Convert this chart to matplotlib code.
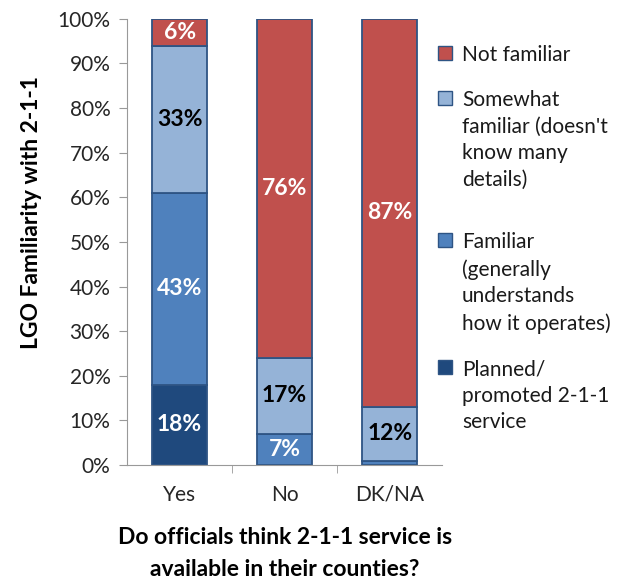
import numpy as np
import matplotlib
matplotlib.use("Agg")
import matplotlib.pyplot as plt
from matplotlib.patches import Rectangle

plt.rcParams['font.family'] = ['Lato', 'DejaVu Sans']

# answers to "is 2-1-1 available in your county?"
groups = ['Yes', 'No', 'DK/NA']

# familiarity shares (%), stacked bottom to top
planned = [18, 0, 0]
familiar = [43, 7, 1]
somewhat = [33, 17, 12]
not_familiar = [6, 76, 87]

series = [
    ('Planned/\npromoted 2-1-1\nservice', planned, '#1F497D', 'white'),
    ('Familiar\n(generally\nunderstands\nhow it operates)', familiar, '#4F81BD', 'white'),
    ('Somewhat\nfamiliar (doesn\'t\nknow many\ndetails)', somewhat, '#95B3D7', 'black'),
    ('Not familiar', not_familiar, '#C0504D', 'white'),
]

W, H = 629, 585
fig = plt.figure(figsize=(W / 100, H / 100), dpi=100)
ax = fig.add_axes([0.202, 0.205, 0.501, 0.763])

x = np.arange(len(groups))
bottom = np.zeros(len(groups))
for label, vals, color, txtcolor in series:
    vals = np.array(vals, dtype=float)
    ax.bar(x, vals, bottom=bottom, width=0.52, color=color,
           edgecolor='#2E5484', linewidth=1.3, label=label)
    for xi, v, b0 in zip(x, vals, bottom):
        if v >= 5:
            ax.text(xi, b0 + v / 2, f'{int(v)}%', ha='center', va='center',
                    color=txtcolor, fontsize=16.5, fontweight='bold')
    bottom += vals

ax.set_xlim(-0.5, 2.5)
ax.set_ylim(0, 100)
ax.set_yticks(np.arange(0, 101, 10))
ax.set_yticklabels([f'{t}%' for t in range(0, 101, 10)], fontsize=15, color='#262626')
ax.set_xticks(x)
ax.set_xticklabels(groups, fontsize=15, color='#262626')
ax.set_xticks([0.5, 1.5], minor=True)
ax.tick_params(axis='x', which='major', length=0, pad=14)
ax.tick_params(axis='x', which='minor', length=6, color='#999999')
ax.tick_params(axis='y', length=6, color='#999999', pad=6)
for s in ['top', 'right']:
    ax.spines[s].set_visible(False)
ax.spines['left'].set_color('#999999')
ax.spines['bottom'].set_color('#999999')

ax.set_ylabel('LGO Familiarity with 2-1-1', fontsize=16.5, fontweight='bold', labelpad=6)
ax.yaxis.set_label_coords(-0.27, 0.565)
ax.set_xlabel('Do officials think 2-1-1 service is\navailable in their counties?',
              fontsize=16.5, fontweight='bold', labelpad=16, linespacing=1.65)

# legend: square key next to the first line of each (wrapped) label
key_rows = [53, 98, 240, 367]   # pixel rows, top to bottom
for (label, _, color, _), row in zip(series[::-1], key_rows):
    fig.patches.append(Rectangle((438 / W, 1 - (row + 7) / H), 14 / W, 14 / H,
                                 transform=fig.transFigure, facecolor=color,
                                 edgecolor='#2E5484', linewidth=1.0))
    fig.text(462 / W, 1 - (row - 8) / H, label, ha='left', va='top',
             fontsize=15, linespacing=1.42, color='#1a1a1a')

fig.savefig('out.png', dpi=100)
